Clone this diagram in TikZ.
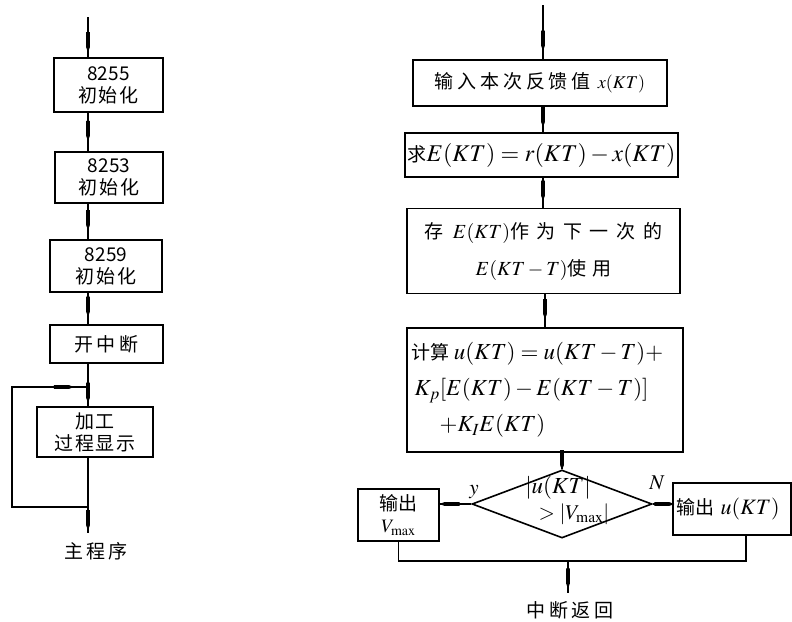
\documentclass[tikz,border=0pt]{standalone}
\usepackage{mathptmx}
\usepackage{fontspec}
\setmainfont{Noto Sans CJK SC}
\usetikzlibrary{shapes.geometric,decorations.markings,arrows.meta}
\newcommand\mth[2]{{\fontsize{#1}{#1}\selectfont$#2$}}
\newcommand\lsp[2]{{\addfontfeature{LetterSpace=#1}#2}}
\tikzset{
  box/.style={draw,line width=1.6pt,inner sep=0pt},
  flow/.style={line width=1.3pt,postaction={decorate},
    decoration={markings,mark=at position #1 with {\fill (-15pt,-1.9pt) -- (0pt,-1.9pt) -- (5pt,0pt) -- (0pt,1.9pt) -- (-15pt,1.9pt) -- cycle;}}},
  flow/.default=0.65,
  plain/.style={line width=1.3pt},
  tight/.style={inner sep=0pt},
}
\begin{document}
\begin{tikzpicture}[x=1pt,y=-1pt,every node/.style={font=\fontsize{19}{22}\selectfont}]
\useasboundingbox (0,0) rectangle (792,621);
% ---------- left column ----------
\coordinate (lt) at (88,17);
\node[box,minimum width=109pt,minimum height=54pt,align=center] (b1) at (108.5,85) {8255\\\lsp{10}{初始化}};
\node[box,minimum width=108pt,minimum height=51pt,align=center] (b2) at (109,177.5) {8253\\\lsp{10}{初始化}};
\node[box,minimum width=112pt,minimum height=52pt,align=center] (b3) at (106,266) {8259\\\lsp{10}{初始化}};
\node[box,minimum width=113pt,minimum height=38pt] (b4) at (106.5,344) {\lsp{18}{开中断}};
\node[box,minimum width=116pt,minimum height=50pt,align=center] (b5) at (95,432) {\lsp{10}{加工}\\\lsp{10}{过程显示}};
\coordinate (j1) at (88,387);
\coordinate (j2) at (88,507);
\coordinate (L1) at (12,507);
\coordinate (L2) at (12,387);
\coordinate (lend) at (88,533);
\node (zcx) at (96,551) {\lsp{15}{主程序}};
\draw[flow=0.75] (lt) -- (lt |- b1.north);
\draw[flow=0.6] (lt |- b1.south) -- (lt |- b2.north);
\draw[flow=0.6] (lt |- b2.south) -- (lt |- b3.north);
\draw[flow=0.6] (lt |- b3.south) -- (lt |- b4.north);
\draw[flow=0.8] (lt |- b4.south) -- (j1) -- (lt |- b5.north);
\draw[plain] (lt |- b5.south) -- (j2);
\draw[flow=0.93] (j2) -- (L1) -- (L2) -- (j1);
\draw[flow=0.7] (j2) -- (lend);
% ---------- right column ----------
\coordinate (rt) at (543,5);
\node[box,minimum width=254pt,minimum height=46pt] (r1) at (540,83) {\lsp{20}{输入本次反馈值}\hspace{7pt}\mth{18}{x(KT)}};
\node[box,minimum width=273pt,minimum height=44pt] (r2) at (541.5,155) {求\mth{24}{E(KT)=r(KT)-x(KT)}};
\node[box,minimum width=273pt,minimum height=85pt,align=center,font=\fontsize{19}{37}\selectfont] (r3) at (543.5,251) {存\hspace{9pt}\mth{20}{E(KT)}\lsp{40}{作为下一次的}\\\mth{20}{E(KT-T)}\lsp{30}{使用}};
\node[box,minimum width=276pt,minimum height=124pt] (r4) at (545,390) {};
\node[anchor=west,align=left,font=\fontsize{19}{36}\selectfont] (r4t) at ([xshift=2pt]r4.west) {计算 \mth{23}{u(KT)=u(KT-T)+}\\\hspace{3pt}\mth{23}{K_p[E(KT)-E(KT-T)]}\\\hspace{28pt}\mth{23}{+K_IE(KT)}};
\node[diamond,draw,line width=1.6pt,inner sep=0pt,minimum width=180pt,minimum height=68pt] (dia) at (562,504) {};
\node[tight] (dt1) at (558,488) {\mth{23}{|u(KT|}};
\node[tight] (dt2) at (574,514) {\mth{21}{>|V_{\max}|}};
\node[box,minimum width=81pt,minimum height=52pt,align=center] (lv) at (398.5,515) {输出\\\mth{19}{V_{\max}}};
\node[box,minimum width=118pt,minimum height=52pt] (ru) at (732,509) {};
\node[anchor=west] (rut) at ([xshift=1pt]ru.west) {输出\hspace{6pt}\mth{22}{u(KT)}};
\node (ly) at (474,492) {\mth{21}{y}};
\node (ln) at (657,483) {\mth{21}{N}};
\coordinate (bl) at (400,561);
\coordinate (br) at (746,561);
\coordinate (bm) at (568,561);
\coordinate (bend) at (568,593);
\node (zdfh) at (570,610) {\lsp{20}{中断返回}};
\draw[flow=0.75] (rt) -- (rt |- r1.north);
\draw[flow=0.6] (rt |- r1.south) -- (rt |- r2.north);
\draw[flow=0.6] (rt |- r2.south) -- (rt |- r3.north);
\draw[flow=0.6] (r4.north |- r3.south) -- (r4.north);
\draw[flow=0.75] (dia.north |- r4.south) -- (dia.north);
\draw[flow=0.85] (dia.west) -- (dia.west -| lv.east);
\draw[flow=0.85] (dia.east) -- (dia.east -| ru.west);
\draw[plain] (lv.south) -- (lv.south |- bl) -- (br) -- (br |- ru.south);
\draw[flow=0.7] (bm) -- (bend);
\end{tikzpicture}
\end{document}
